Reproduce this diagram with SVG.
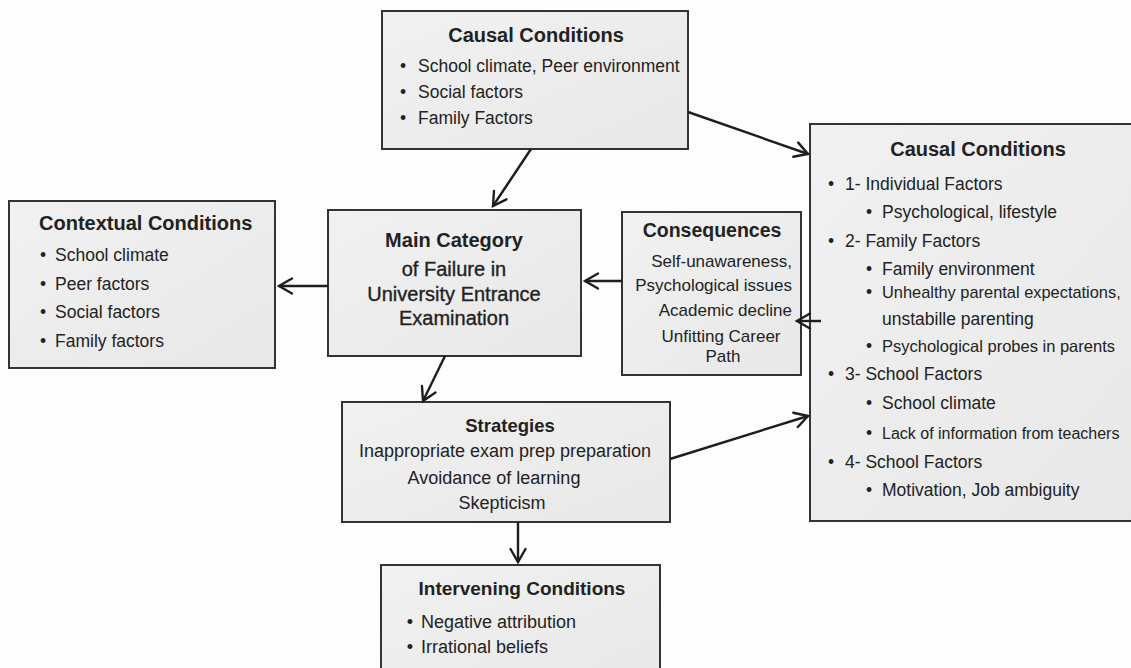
<svg xmlns="http://www.w3.org/2000/svg" width="1131" height="668" viewBox="0 0 1131 668">
<defs>
<linearGradient id="bg" x1="0" y1="0" x2="1" y2="1">
<stop offset="0" stop-color="#f1f1f1"/>
<stop offset="1" stop-color="#e8e8e8"/>
</linearGradient>
<marker id="ah" viewBox="-15 -10 18 20" refX="0" refY="0" markerWidth="18" markerHeight="20" markerUnits="userSpaceOnUse" orient="auto">
<path d="M-13,-7.5 L0,0 L-13,7.5" fill="none" stroke="#1e1e1e" stroke-width="2.4" stroke-linecap="round" stroke-linejoin="miter"/>
</marker>
<style>
.box{fill:url(#bg);stroke:#333;stroke-width:2}
text{font-family:"Liberation Sans",Arial,Helvetica,sans-serif;fill:#222}
.t{font-weight:bold;font-size:20px}
.b{font-size:17.5px}
.r{font-size:17.5px}
.k{font-size:17px}
.m{text-anchor:middle}
.e{text-anchor:end}
.c line{stroke:#1e1e1e;stroke-width:2.4;marker-end:url(#ah)}
</style>
</defs>
<rect x="0" y="0" width="1131" height="668" fill="#fdfdfd"/>

<g id="causal-top">
<rect class="box" x="382" y="11" width="306" height="138"/>
<text class="t m" x="536" y="42">Causal Conditions</text>
<text class="b m" x="403" y="72">•</text><text class="b" x="418" y="72">School climate, Peer environment</text>
<text class="b m" x="403" y="98">•</text><text class="b" x="418" y="98">Social factors</text>
<text class="b m" x="403" y="124">•</text><text class="b" x="418" y="124">Family Factors</text>
</g>

<g id="contextual">
<rect class="box" x="9" y="201" width="266" height="167"/>
<text class="t" x="39" y="230">Contextual Conditions</text>
<text class="b m" x="43" y="261">•</text><text class="b" x="55" y="261">School climate</text>
<text class="b m" x="43" y="290">•</text><text class="b" x="55" y="290">Peer factors</text>
<text class="b m" x="43" y="318">•</text><text class="b" x="55" y="318">Social factors</text>
<text class="b m" x="43" y="347">•</text><text class="b" x="55" y="347">Family factors</text>
</g>

<g id="main">
<rect class="box" x="328" y="210" width="253" height="146"/>
<text class="t m" x="454" y="247">Main Category</text>
<text class="m" x="454" y="276" font-size="20" stroke="#222" stroke-width="0.35">of Failure in</text>
<text class="m" x="454" y="301" font-size="20" stroke="#222" stroke-width="0.35">University Entrance</text>
<text class="m" x="454" y="325" font-size="20" stroke="#222" stroke-width="0.35">Examination</text>
</g>

<g id="consequences">
<rect class="box" x="622" y="212" width="179" height="163"/>
<text class="m" x="712" y="237" font-size="19.5" font-weight="bold">Consequences</text>
<text class="k e" x="792" y="267">Self-unawareness,</text>
<text class="k e" x="792" y="291">Psychological issues</text>
<text class="k e" x="792" y="316">Academic decline</text>
<text class="k m" x="721" y="342">Unfitting Career</text>
<text class="k m" x="723" y="362">Path</text>
</g>

<g id="causal-right">
<rect class="box" x="810" y="124" width="330" height="397"/>
<text class="t m" x="978" y="156">Causal Conditions</text>
<text class="r m" x="831" y="190">•</text><text class="r" x="845" y="190">1- Individual Factors</text>
<text class="r m" x="869" y="218">•</text><text class="r" x="882" y="218">Psychological, lifestyle</text>
<text class="r m" x="831" y="247">•</text><text class="r" x="845" y="247">2- Family Factors</text>
<text class="r m" x="869" y="275">•</text><text class="r" x="882" y="275">Family environment</text>
<text class="r m" x="869" y="298">•</text><text x="882" y="298" font-size="16.4">Unhealthy parental expectations,</text>
<text class="r" x="882" y="325">unstabille parenting</text>
<text class="r m" x="869" y="352">•</text><text x="882" y="352" font-size="16.5">Psychological probes in parents</text>
<text class="r m" x="831" y="380">•</text><text class="r" x="845" y="380">3- School Factors</text>
<text class="r m" x="869" y="409">•</text><text class="r" x="882" y="409">School climate</text>
<text class="r m" x="869" y="439">•</text><text x="882" y="439" font-size="16">Lack of information from teachers</text>
<text class="r m" x="831" y="468">•</text><text class="r" x="845" y="468">4- School Factors</text>
<text class="r m" x="869" y="496">•</text><text class="r" x="882" y="496">Motivation, Job ambiguity</text>
</g>

<g id="strategies">
<rect class="box" x="342" y="402" width="328" height="120"/>
<text class="m" x="510" y="432" font-size="18.5" font-weight="bold">Strategies</text>
<text class="m" x="505" y="457" font-size="18">Inappropriate exam prep preparation</text>
<text class="m" x="494" y="484" font-size="18">Avoidance of learning</text>
<text class="m" x="502" y="509" font-size="18">Skepticism</text>
</g>

<g id="intervening">
<rect class="box" x="381" y="565" width="279" height="120"/>
<text class="m" x="522" y="595" font-size="19" font-weight="bold">Intervening Conditions</text>
<text class="m" x="410" y="628" font-size="18">•</text><text x="421" y="628" font-size="18">Negative attribution</text>
<text class="m" x="410" y="653" font-size="18">•</text><text x="421" y="653" font-size="18">Irrational beliefs</text>
</g>

<g id="connectors" class="c">
<line x1="531" y1="149" x2="493" y2="206"/>
<line x1="688" y1="112" x2="808" y2="154"/>
<line x1="328" y1="286" x2="279" y2="286"/>
<line x1="622" y1="281" x2="585" y2="281"/>
<line x1="821" y1="321" x2="797" y2="321"/>
<line x1="445" y1="356" x2="423" y2="401"/>
<line x1="670" y1="459" x2="808" y2="416"/>
<line x1="518" y1="522" x2="518" y2="562"/>
</g>
</svg>
